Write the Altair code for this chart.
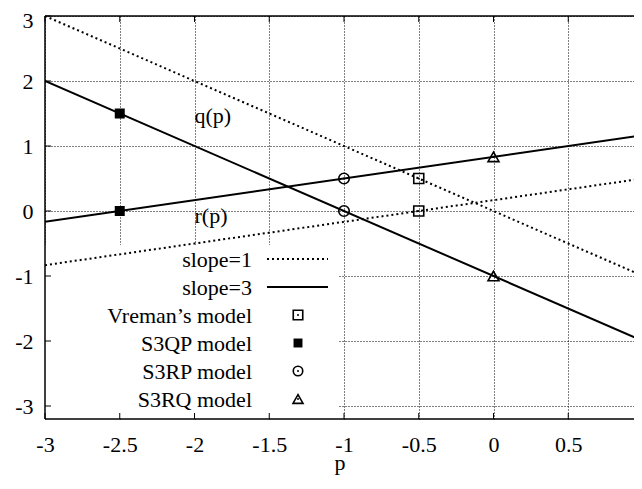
import altair as alt
import pandas as pd

FONT = "Liberation Serif"
FS = 22

# ---- data ----
x_ends = [-3.0, 1.0]
q_dotted = [3.0, -1.0]        # q(p), slope=1 family (dotted)
r_dotted = [-0.8333, 0.5]     # r(p), dotted
q_solid = [2.0, -2.0]         # q(p), slope=3 family (solid)
r_solid = [-0.1667, 1.1667]   # r(p), solid

vreman_x = [-0.5, -0.5]
vreman_y = [0.5, 0.0]
s3qp_x = [-2.5, -2.5]
s3qp_y = [1.5, 0.0]
s3rp_x = [-1.0, -1.0]
s3rp_y = [0.5, 0.0]
s3rq_x = [0.0, 0.0]
s3rq_y = [0.8333, -1.0]

x_ticks = [-3, -2.5, -2, -1.5, -1, -0.5, 0, 0.5, 1]
y_ticks = [-3, -2, -1, 0, 1, 2, 3]

legend_labels = ["slope=1", "slope=3", "Vreman\u2019s model", "S3QP model", "S3RP model", "S3RQ model"]
curve_labels = ["q(p)", "r(p)"]
curve_label_x = [-2.0, -2.0]
curve_label_y = [1.35, -0.185]

# plot area: the reference's right edge (p = 1) falls just outside the window,
# so the visible part of the plot ends a little before p = 1
PX_PER_UNIT = 149.5
W, H = 589, 403
X_DOM = [-3, -3 + W / PX_PER_UNIT]
Y_DOM = [-3.2, 3]
x_vis_ticks = [t for t in x_ticks if X_DOM[0] <= t <= X_DOM[1]]

xs = alt.Scale(domain=X_DOM, nice=False, zero=False)
ys = alt.Scale(domain=Y_DOM, nice=False, zero=False)

x_axis = alt.Axis(values=x_vis_ticks, labelExpr="'' + datum.value", title="p",
                  labelFont=FONT, labelFontSize=FS, labelColor="black",
                  labelBaseline="middle", labelPadding=25,
                  titleFont=FONT, titleFontSize=FS, titleFontWeight="normal", titleColor="black",
                  titleBaseline="alphabetic", titlePadding=14,
                  tickSize=0, domain=False,
                  grid=True, gridDash=[1, 2], gridColor="#000", gridWidth=1,
                  labelFlush=False, labelOverlap=False)
y_axis = alt.Axis(values=y_ticks, labelExpr="'' + datum.value", title=None,
                  labelFont=FONT, labelFontSize=FS, labelColor="black",
                  tickSize=0, labelPadding=12, domain=False,
                  grid=True, gridDash=[1, 2], gridColor="#000", gridWidth=1,
                  labelFlush=1, labelFlushOffset=6, labelOverlap=False)

lines_df = pd.DataFrame({
    "x": x_ends * 4,
    "y": q_dotted + r_dotted + q_solid + r_solid,
    "series": ["qd"] * 2 + ["rd"] * 2 + ["qs"] * 2 + ["rs"] * 2,
    "style": ["dotted"] * 4 + ["solid"] * 4,
})

base_axes = alt.Chart(pd.DataFrame({"x": X_DOM, "y": Y_DOM})).mark_point(opacity=0).encode(
    x=alt.X("x:Q", scale=xs, axis=x_axis),
    y=alt.Y("y:Q", scale=ys, axis=y_axis),
)

one = pd.DataFrame({"k": [0]})

# opaque key box (covers grid)
key_box = alt.Chart(one).mark_rect(color="white", fill="white").encode(
    x=alt.value(0), x2=alt.value(293), y=alt.value(229), y2=alt.value(H)
)

# border (left, top, bottom; right edge is outside the window)
border = [
    alt.Chart(one).mark_rule(color="black", strokeWidth=1.5).encode(x=alt.value(0), y=alt.value(0), y2=alt.value(H)),
    alt.Chart(one).mark_rule(color="black", strokeWidth=1.5).encode(x=alt.value(0), x2=alt.value(W + 2), y=alt.value(0)),
    alt.Chart(one).mark_rule(color="black", strokeWidth=1.5).encode(x=alt.value(0), x2=alt.value(W + 2), y=alt.value(H)),
]

# inward ticks
yt_df = pd.DataFrame({"y": y_ticks})
xt_df = pd.DataFrame({"x": x_vis_ticks})
tick_left = alt.Chart(yt_df).mark_rule(color="black", strokeWidth=1).encode(
    y=alt.Y("y:Q", scale=ys), x=alt.value(0), x2=alt.value(6))
tick_bottom = alt.Chart(xt_df).mark_rule(color="black", strokeWidth=1).encode(
    x=alt.X("x:Q", scale=xs), y=alt.value(H), y2=alt.value(H - 6))
tick_top = alt.Chart(xt_df).mark_rule(color="black", strokeWidth=1).encode(
    x=alt.X("x:Q", scale=xs), y=alt.value(0), y2=alt.value(6))

dotted = alt.Chart(lines_df[lines_df["style"] == "dotted"]).mark_line(
    color="black", strokeWidth=2, strokeDash=[2, 3], clip=True).encode(
    x=alt.X("x:Q", scale=xs), y=alt.Y("y:Q", scale=ys), detail="series:N")
solid = alt.Chart(lines_df[lines_df["style"] == "solid"]).mark_line(
    color="black", strokeWidth=2, clip=True).encode(
    x=alt.X("x:Q", scale=xs), y=alt.Y("y:Q", scale=ys), detail="series:N")


def pts(xv, yv, shape, size, filled, dot=True):
    df = pd.DataFrame({"x": xv, "y": yv})
    enc = dict(x=alt.X("x:Q", scale=xs), y=alt.Y("y:Q", scale=ys))
    if filled:
        m = alt.Chart(df).mark_point(shape=shape, size=size, filled=True, color="black", opacity=1).encode(**enc)
    else:
        m = alt.Chart(df).mark_point(shape=shape, size=size, filled=False, color="black",
                                     strokeWidth=1.6, opacity=1).encode(**enc)
    layers = [m]
    if dot:
        layers.append(alt.Chart(df).mark_point(shape="circle", size=4, filled=True, color="black",
                                               opacity=1).encode(**enc))
    return layers


point_layers = []
point_layers += pts(vreman_x, vreman_y, "square", 100, False)
point_layers += pts(s3qp_x, s3qp_y, "square", 100, True, dot=False)
point_layers += pts(s3rp_x, s3rp_y, "circle", 110, False)
point_layers += pts(s3rq_x, s3rq_y, "triangle-up", 120, False)

cl_df = pd.DataFrame({"x": curve_label_x, "y": curve_label_y, "t": curve_labels})
curve_text = alt.Chart(cl_df).mark_text(align="left", baseline="alphabetic", font=FONT, fontSize=FS,
                                        color="black").encode(
    x=alt.X("x:Q", scale=xs), y=alt.Y("y:Q", scale=ys), text="t:N")

# key contents
legend_layers = []
row0, step, text_drop = 243, 28, 8
lab_right, samp_l, samp_r, mark_c = 207, 222, 283, 253
marker_specs = [None, None, ("square", 90, False, True), ("square", 80, True, False),
                ("circle", 90, False, True), ("triangle-up", 100, False, True)]
for i, lab in enumerate(legend_labels):
    yp = row0 + step * i
    legend_layers.append(alt.Chart(one).mark_text(text=lab, align="right", baseline="alphabetic", font=FONT,
                                                  fontSize=FS, color="black").encode(
        x=alt.value(lab_right), y=alt.value(yp + text_drop)))
    if i == 0:
        legend_layers.append(alt.Chart(one).mark_rule(color="black", strokeWidth=2, strokeDash=[2, 3]).encode(
            x=alt.value(samp_l), x2=alt.value(samp_r), y=alt.value(yp)))
    elif i == 1:
        legend_layers.append(alt.Chart(one).mark_rule(color="black", strokeWidth=2).encode(
            x=alt.value(samp_l), x2=alt.value(samp_r), y=alt.value(yp)))
    else:
        shape, size, filled, dot = marker_specs[i]
        if filled:
            legend_layers.append(alt.Chart(one).mark_point(shape=shape, size=size, filled=True, color="black",
                                                           opacity=1).encode(x=alt.value(mark_c), y=alt.value(yp)))
        else:
            legend_layers.append(alt.Chart(one).mark_point(shape=shape, size=size, filled=False, color="black",
                                                           strokeWidth=1.6, opacity=1).encode(
                x=alt.value(mark_c), y=alt.value(yp)))
        if dot:
            legend_layers.append(alt.Chart(one).mark_point(shape="circle", size=4, filled=True, color="black",
                                                           opacity=1).encode(x=alt.value(mark_c), y=alt.value(yp)))

chart = alt.layer(
    base_axes, key_box, tick_left, tick_bottom, tick_top,
    dotted, solid, *point_layers, curve_text, *legend_layers, *border
).properties(
    width=W, height=H,
    autosize=alt.AutoSizeParams(type="none"),
    padding={"left": 37, "top": 8, "right": 0, "bottom": 57},
    background="white",
).configure_view(strokeWidth=0)

chart.save("out.html", embed_options={"renderer": "svg", "actions": False})
